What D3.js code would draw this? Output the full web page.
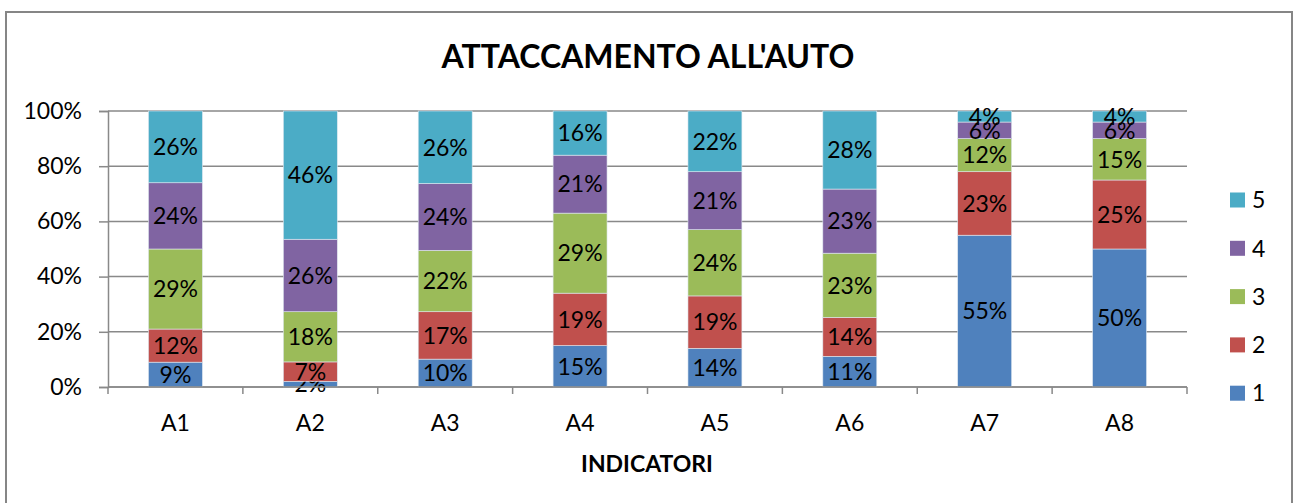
<!DOCTYPE html>
<html>
<head>
<meta charset="utf-8">
<script src="https://cdn.jsdelivr.net/npm/d3@7"></script>
<style>
  html, body { margin: 0; padding: 0; background: #fff; }
  svg { display: block; }
  text { font-family: Lato, "Open Sans", sans-serif; fill: #000; }
</style>
</head>
<body>
<svg id="chart" width="1293" height="503"></svg>
<script>
// Indicators on the x axis
const categories = ["A1", "A2", "A3", "A4", "A5", "A6", "A7", "A8"];
// Response levels (stack order, bottom to top)
const levels = ["1", "2", "3", "4", "5"];
// Share of answers per level, in percent
const level1 = [9, 2, 10, 15, 14, 11, 55, 50];
const level2 = [12, 7, 17, 19, 19, 14, 23, 25];
const level3 = [29, 18, 22, 29, 24, 23, 12, 15];
const level4 = [24, 26, 24, 21, 21, 23, 6, 6];
const level5 = [26, 46, 26, 16, 22, 28, 4, 4];
const yTicks = [0, 0.2, 0.4, 0.6, 0.8, 1];
const colors = ["#4F81BD", "#C0504D", "#9BBB59", "#8064A2", "#4BACC6"];

const series = [level1, level2, level3, level4, level5];
const rows = categories.map((c, i) => {
  const r = { cat: c };
  levels.forEach((l, j) => { r[l] = series[j][i]; });
  return r;
});

const svg = d3.select("#chart");
const m = { left: 108, right: 1187, top: 111, bottom: 387 };

// outer chart frame
svg.append("rect")
  .attr("x", 6).attr("y", 12)
  .attr("width", 1286).attr("height", 500)
  .attr("fill", "#fff").attr("stroke", "#868686").attr("stroke-width", 2);

const x = d3.scaleBand().domain(categories).range([m.left, m.right]).paddingInner(0.6).paddingOuter(0.3);
const xOuter = d3.scaleBand().domain(categories).range([m.left, m.right]);
const y = d3.scaleLinear().domain([0, 1]).range([m.bottom, m.top]);

const stack = d3.stack().keys(levels).offset(d3.stackOffsetExpand);
const stacked = stack(rows);

// gridlines
svg.append("g").selectAll("line").data(yTicks).join("line")
  .attr("x1", m.left).attr("x2", m.right)
  .attr("y1", d => y(d)).attr("y2", d => y(d))
  .attr("stroke", "#898989").attr("stroke-width", 1.5);

// y axis
const yAxis = svg.append("g").attr("transform", `translate(${m.left},0)`)
  .call(d3.axisLeft(y).tickValues(yTicks).tickFormat(d3.format(".0%")).tickSize(9).tickPadding(17));
yAxis.select(".domain").attr("stroke", "#898989").attr("stroke-width", 1.5);
yAxis.selectAll(".tick line").attr("stroke", "#898989").attr("stroke-width", 1.5);
yAxis.selectAll(".tick text").attr("font-size", 23).attr("font-family", "Lato").attr("fill", "#000");

// bars
const layer = svg.append("g").selectAll("g").data(stacked).join("g")
  .attr("fill", (d, i) => colors[i]);
layer.selectAll("rect").data(d => d).join("rect")
  .attr("x", d => x(d.data.cat))
  .attr("width", x.bandwidth())
  .attr("y", d => y(d[1]))
  .attr("height", d => y(d[0]) - y(d[1]))
  .attr("stroke", "#dfe8f0").attr("stroke-width", 0.6);

// x axis with ticks at category boundaries
const xAx = svg.append("g");
xAx.append("line").attr("x1", m.left).attr("x2", m.right)
  .attr("y1", m.bottom).attr("y2", m.bottom)
  .attr("stroke", "#898989").attr("stroke-width", 1.5);
const bounds = categories.map(c => xOuter(c)).concat([m.right]);
xAx.selectAll("line.tk").data(bounds).join("line").attr("class", "tk")
  .attr("x1", d => d).attr("x2", d => d)
  .attr("y1", m.bottom).attr("y2", m.bottom + 7)
  .attr("stroke", "#898989").attr("stroke-width", 1.5);
xAx.selectAll("text").data(categories).join("text")
  .attr("x", d => xOuter(d) + xOuter.bandwidth() / 2)
  .attr("y", 431)
  .attr("text-anchor", "middle").attr("font-size", 23)
  .text(d => d);

// value labels
layer.each(function(s, i) {
  d3.select(this).selectAll("text").data(s).join("text")
    .attr("x", d => x(d.data.cat) + x.bandwidth() / 2)
    .attr("y", d => (y(d[0]) + y(d[1])) / 2)
    .attr("dy", "0.36em")
    .attr("text-anchor", "middle").attr("font-size", 23).attr("fill", "#000")
    .text(d => d.data[s.key] + "%");
});

// title
svg.append("text").attr("x", 648).attr("y", 68)
  .attr("text-anchor", "middle").attr("font-size", 32).attr("font-weight", "bold")
  .text("ATTACCAMENTO ALL'AUTO");

// axis title
svg.append("text").attr("x", 647).attr("y", 472)
  .attr("text-anchor", "middle").attr("font-size", 23).attr("font-weight", "bold")
  .text("INDICATORI");

// legend, top entry is the highest level
const legendItems = levels.slice().reverse();
const lg = svg.append("g").selectAll("g").data(legendItems).join("g")
  .attr("transform", (d, i) => `translate(1230,${200 + i * 48.3})`);
lg.append("rect").attr("x", 0).attr("y", -7.5).attr("width", 15).attr("height", 15)
  .attr("fill", d => colors[levels.indexOf(d)]);
lg.append("text").attr("x", 22).attr("y", 0).attr("dy", "0.36em")
  .attr("font-size", 23).text(d => d);
</script>
</body>
</html>
